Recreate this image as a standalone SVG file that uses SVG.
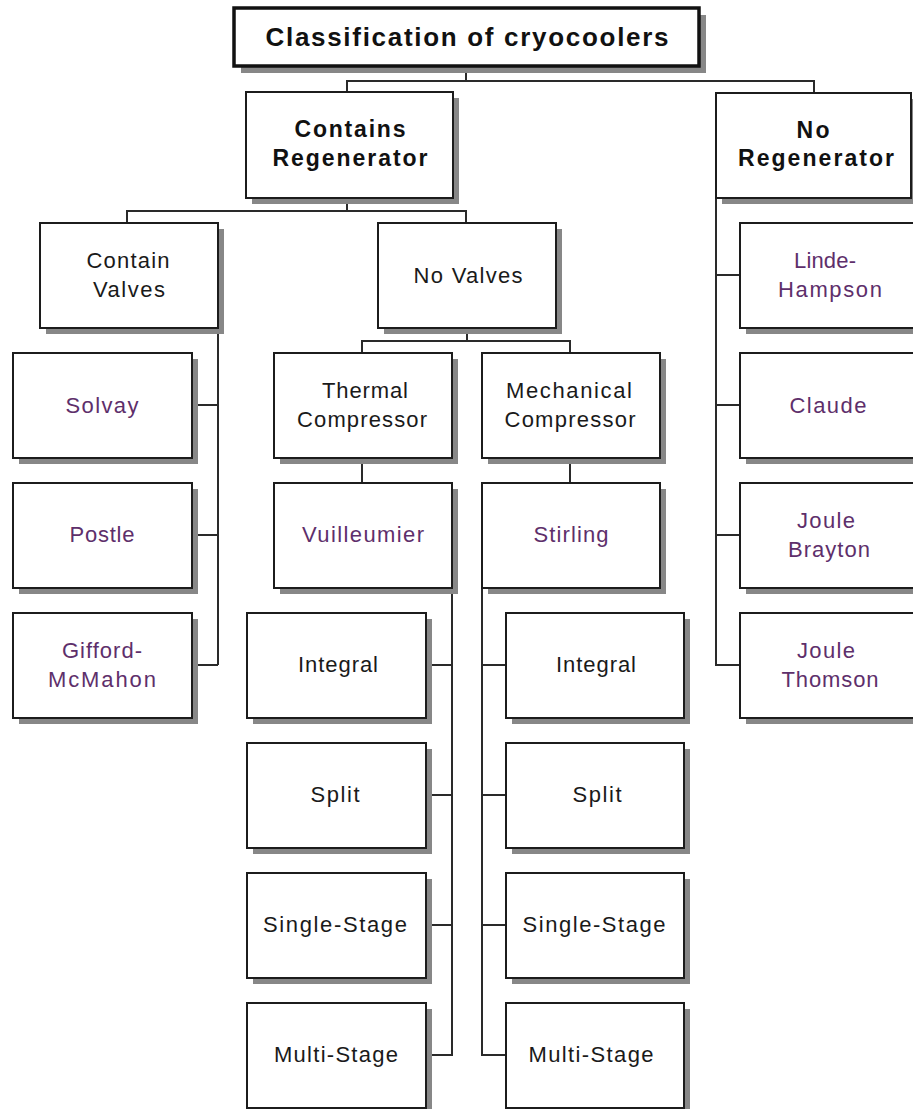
<svg xmlns="http://www.w3.org/2000/svg" width="913" height="1109" viewBox="0 0 913 1109">
<style>
.bg{fill:#ffffff}
.sh{fill:#878787}
.bx{fill:#ffffff;stroke:#1c1c1c;stroke-width:2}
.tb{fill:#ffffff;stroke:#111111;stroke-width:3.5}
.ln{fill:none;stroke:#2a2a2a;stroke-width:2}
text{font-family:"Liberation Sans",Arial,sans-serif;text-anchor:middle}
.t{font-size:22px;fill:#1a1a1a}
.p{font-size:22px;fill:#5e2f6b}
.b{font-size:23px;font-weight:bold;fill:#111111}
.ti{font-size:26px;font-weight:bold;fill:#111111}
</style>
<rect class="bg" x="0" y="0" width="913" height="1109"/>

<g id="connectors">
<path class="ln" d="M466,66 V81"/>
<path class="ln" d="M347,92 V81 H814 V93"/>
<path class="ln" d="M347,198 V211"/>
<path class="ln" d="M127,223 V211 H466 V223"/>
<path class="ln" d="M218,328 V665"/>
<path class="ln" d="M192,405 H218 M192,535 H218 M192,665 H218"/>
<path class="ln" d="M467,328 V341"/>
<path class="ln" d="M362,353 V341 H570 V353"/>
<path class="ln" d="M362,458 V483 M570,458 V483"/>
<path class="ln" d="M452,588 V1055 H426 M426,665 H452 M426,795 H452 M426,925 H452"/>
<path class="ln" d="M482,588 V1055 H506 M482,665 H506 M482,795 H506 M482,925 H506"/>
<path class="ln" d="M716,198 V665 H740 M716,275 H740 M716,405 H740 M716,535 H740"/>
</g>

<g id="title">
<rect class="sh" x="241" y="15" width="465" height="58"/>
<rect class="tb" x="234" y="8" width="465" height="58"/>
<text class="ti" x="467" y="46" textLength="403" lengthAdjust="spacing">Classification of cryocoolers</text>
</g>

<g id="contains-regenerator">
<rect class="sh" x="252" y="98" width="207" height="106"/>
<rect class="bx" x="246" y="92" width="207" height="106"/>
<text class="b" x="350" y="137" textLength="111" lengthAdjust="spacing">Contains</text>
<text class="b" x="350" y="166" textLength="155" lengthAdjust="spacing">Regenerator</text>
</g>

<g id="no-regenerator">
<rect class="sh" x="722" y="99" width="196" height="105"/>
<rect class="bx" x="716" y="93" width="195" height="105"/>
<text class="b" x="813" y="138" textLength="33" lengthAdjust="spacing">No</text>
<text class="b" x="816" y="166" textLength="156" lengthAdjust="spacing">Regenerator</text>
</g>

<g id="contain-valves">
<rect class="sh" x="46" y="229" width="178" height="105"/>
<rect class="bx" x="40" y="223" width="178" height="105"/>
<text class="t" x="128" y="268" textLength="83" lengthAdjust="spacing">Contain</text>
<text class="t" x="129" y="297" textLength="72" lengthAdjust="spacing">Valves</text>
</g>

<g id="no-valves">
<rect class="sh" x="384" y="229" width="178" height="105"/>
<rect class="bx" x="378" y="223" width="178" height="105"/>
<text class="t" x="468" y="283" textLength="109" lengthAdjust="spacing">No Valves</text>
</g>

<g id="solvay">
<rect class="sh" x="19" y="359" width="179" height="105"/>
<rect class="bx" x="13" y="353" width="179" height="105"/>
<text class="p" x="102" y="413" textLength="73" lengthAdjust="spacing">Solvay</text>
</g>

<g id="postle">
<rect class="sh" x="19" y="489" width="179" height="105"/>
<rect class="bx" x="13" y="483" width="179" height="105"/>
<text class="p" x="102" y="542" textLength="65" lengthAdjust="spacing">Postle</text>
</g>

<g id="gifford-mcmahon">
<rect class="sh" x="19" y="619" width="179" height="105"/>
<rect class="bx" x="13" y="613" width="179" height="105"/>
<text class="p" x="102" y="658" textLength="80" lengthAdjust="spacing">Gifford-</text>
<text class="p" x="102" y="687" textLength="108" lengthAdjust="spacing">McMahon</text>
</g>

<g id="thermal-compressor">
<rect class="sh" x="280" y="359" width="178" height="105"/>
<rect class="bx" x="274" y="353" width="178" height="105"/>
<text class="t" x="365" y="398" textLength="86" lengthAdjust="spacing">Thermal</text>
<text class="t" x="362" y="427" textLength="130" lengthAdjust="spacing">Compressor</text>
</g>

<g id="mechanical-compressor">
<rect class="sh" x="488" y="359" width="178" height="105"/>
<rect class="bx" x="482" y="353" width="178" height="105"/>
<text class="t" x="569" y="398" textLength="126" lengthAdjust="spacing">Mechanical</text>
<text class="t" x="570" y="427" textLength="131" lengthAdjust="spacing">Compressor</text>
</g>

<g id="vuilleumier">
<rect class="sh" x="280" y="489" width="178" height="105"/>
<rect class="bx" x="274" y="483" width="178" height="105"/>
<text class="p" x="363" y="542" textLength="122" lengthAdjust="spacing">Vuilleumier</text>
</g>

<g id="stirling">
<rect class="sh" x="488" y="489" width="178" height="105"/>
<rect class="bx" x="482" y="483" width="178" height="105"/>
<text class="p" x="571" y="542" textLength="75" lengthAdjust="spacing">Stirling</text>
</g>

<g id="v-integral">
<rect class="sh" x="253" y="619" width="179" height="105"/>
<rect class="bx" x="247" y="613" width="179" height="105"/>
<text class="t" x="338" y="672" textLength="80" lengthAdjust="spacing">Integral</text>
</g>
<g id="v-split">
<rect class="sh" x="253" y="749" width="179" height="105"/>
<rect class="bx" x="247" y="743" width="179" height="105"/>
<text class="t" x="335" y="802" textLength="49" lengthAdjust="spacing">Split</text>
</g>
<g id="v-single-stage">
<rect class="sh" x="253" y="879" width="179" height="105"/>
<rect class="bx" x="247" y="873" width="179" height="105"/>
<text class="t" x="335" y="932" textLength="144" lengthAdjust="spacing">Single-Stage</text>
</g>
<g id="v-multi-stage">
<rect class="sh" x="253" y="1009" width="179" height="105"/>
<rect class="bx" x="247" y="1003" width="179" height="105"/>
<text class="t" x="336" y="1062" textLength="124" lengthAdjust="spacing">Multi-Stage</text>
</g>

<g id="s-integral">
<rect class="sh" x="512" y="619" width="178" height="105"/>
<rect class="bx" x="506" y="613" width="178" height="105"/>
<text class="t" x="596" y="672" textLength="80" lengthAdjust="spacing">Integral</text>
</g>
<g id="s-split">
<rect class="sh" x="512" y="749" width="178" height="105"/>
<rect class="bx" x="506" y="743" width="178" height="105"/>
<text class="t" x="597" y="802" textLength="49" lengthAdjust="spacing">Split</text>
</g>
<g id="s-single-stage">
<rect class="sh" x="512" y="879" width="178" height="105"/>
<rect class="bx" x="506" y="873" width="178" height="105"/>
<text class="t" x="594" y="932" textLength="143" lengthAdjust="spacing">Single-Stage</text>
</g>
<g id="s-multi-stage">
<rect class="sh" x="512" y="1009" width="178" height="105"/>
<rect class="bx" x="506" y="1003" width="178" height="105"/>
<text class="t" x="591" y="1062" textLength="125" lengthAdjust="spacing">Multi-Stage</text>
</g>

<g id="linde-hampson">
<rect class="sh" x="746" y="229" width="180" height="105"/>
<rect class="bx" x="740" y="223" width="180" height="105"/>
<text class="p" x="825" y="268" textLength="62" lengthAdjust="spacing">Linde-</text>
<text class="p" x="830" y="297" textLength="104" lengthAdjust="spacing">Hampson</text>
</g>
<g id="claude">
<rect class="sh" x="746" y="359" width="180" height="105"/>
<rect class="bx" x="740" y="353" width="180" height="105"/>
<text class="p" x="828" y="413" textLength="77" lengthAdjust="spacing">Claude</text>
</g>
<g id="joule-brayton">
<rect class="sh" x="746" y="489" width="180" height="105"/>
<rect class="bx" x="740" y="483" width="180" height="105"/>
<text class="p" x="826" y="528" textLength="58" lengthAdjust="spacing">Joule</text>
<text class="p" x="829" y="557" textLength="82" lengthAdjust="spacing">Brayton</text>
</g>
<g id="joule-thomson">
<rect class="sh" x="746" y="619" width="180" height="105"/>
<rect class="bx" x="740" y="613" width="180" height="105"/>
<text class="p" x="826" y="658" textLength="58" lengthAdjust="spacing">Joule</text>
<text class="p" x="830" y="687" textLength="97" lengthAdjust="spacing">Thomson</text>
</g>
</svg>
